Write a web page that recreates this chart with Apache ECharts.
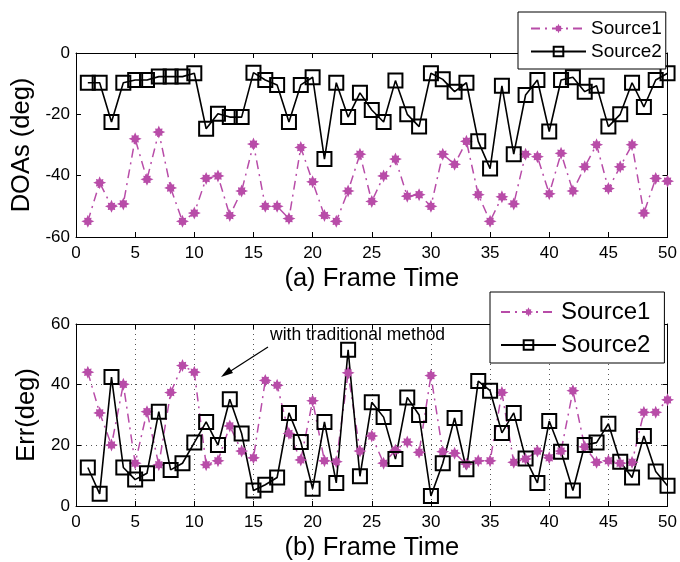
<!DOCTYPE html>
<html>
<head>
    <meta charset="utf-8" />
    <title>DOAs and Err per frame</title>
    <script src="https://cdn.jsdelivr.net/npm/echarts@6/dist/echarts.min.js"></script>
</head>
<body style="margin:0;background:#fff;">
<div id="main" style="width: 680px;height:562px;"></div>
<script type="text/javascript">
    // frame index (x axis)
    var frames = [1,2,3,4,5,6,7,8,9,10,11,12,13,14,15,16,17,18,19,20,21,22,23,24,25,
                  26,27,28,29,30,31,32,33,34,35,36,37,38,39,40,41,42,43,44,45,46,47,48,49,50];
    // (a) DOAs
    var doaSource1 = [-54.9,-42.3,-50,-49.2,-28,-41.2,-25.8,-44,-54.9,-52.2,
                      -40.9,-40.1,-53,-45,-29.7,-50,-50,-54,-30.8,-42,
                      -53,-54.9,-45,-33,-48.4,-40.1,-34.6,-46.7,-46.2,-50,
                      -33,-36.3,-28.8,-46.2,-54.9,-46.9,-49.2,-33,-33.8,-45.9,
                      -32.7,-45,-37.1,-29.9,-44.2,-37.1,-29.9,-52.2,-40.9,-41.8];
    var doaSource2 = [-9.7,-9.7,-22.5,-9.7,-8.8,-8.8,-7.7,-7.7,-7.7,-6.6,
                      -24.7,-19.8,-20.9,-20.9,-6.4,-8.8,-10.4,-22.5,-10.4,-7.9,
                      -34.6,-9.7,-20.9,-13,-18.6,-22.5,-9,-20,-24,-6.6,
                      -8.6,-12.6,-9.7,-28.8,-37.7,-10.7,-33,-13.7,-8.8,-25.6,
                      -8.8,-7.9,-12.6,-10.7,-24,-20,-9.7,-17.6,-8.8,-6.6];
    // (b) Err
    var errSource1 = [44.1,30.7,20.1,40.1,14.1,31.1,13.6,37.4,46.3,44.1,
                      13.6,14.9,26.4,18.1,15.9,41.4,39.8,23.9,15.2,34.7,
                      14.9,14.6,43.9,18.1,23.1,14.1,18.4,21.1,17.7,43,
                      17.9,17.4,13.8,14.9,14.9,37.4,14.4,15.5,18.1,15.9,
                      18.1,38,19.5,14.4,14.9,14.1,14.4,30.9,30.9,35];
    var errSource2 = [12.7,4,42.5,12.7,8.7,10.8,31.1,11.9,14.1,20.9,
                      27.7,20.1,35.2,23.9,5.1,7,9.4,30.7,21.1,5.7,
                      27.7,7.6,51.5,9.8,34.2,29.3,15.5,35.8,30,3.3,
                      14.1,29,12.1,41.2,38,24.1,30.7,15.7,7.6,28,
                      17.9,5.1,20.1,20.9,27.1,14.6,9.4,23.1,11.4,6.7];
    // axis ranges [min, max, interval]
    var xRange = [0, 50, 5];
    var doaRange = [-60, 0, 20];
    var errRange = [0, 60, 20];
    var seriesNames = ['Source1', 'Source2'];

    function pairs(ys) {
        var out = [];
        for (var i = 0; i < frames.length; i++) {
            out.push([frames[i], ys[i]]);
        }
        return out;
    }

    var FONT = '"Liberation Sans", Arial, sans-serif';
    var PINK = '#b84ca8';
    // MATLAB style '*' marker, drawn fat
    var STAR = 'path://M10,0 L12.1,4.9 L15.7,4.3 L15.1,7.9 L20,10 L15.1,12.1 L15.7,15.7 L12.1,15.1 L10,20 L7.9,15.1 L4.3,15.7 L4.9,12.1 L0,10 L4.9,7.9 L4.3,4.3 L7.9,4.9 Z';

    function xAx(grid, showGrid, nameText) {
        return [{
            type: 'value', gridIndex: grid, min: xRange[0], max: xRange[1], interval: xRange[2],
            position: 'bottom',
            name: nameText, nameLocation: 'middle', nameGap: 29,
            nameTextStyle: { fontSize: 25.5, color: '#000', fontFamily: FONT },
            axisLine: { show: true, onZero: false, lineStyle: { color: '#000', width: 1 } },
            axisTick: { inside: true, length: 5, lineStyle: { color: '#000' } },
            axisLabel: { fontSize: 17, color: '#000', margin: 8, fontFamily: FONT },
            splitLine: { show: showGrid, lineStyle: { color: '#555', type: [1, 4] } }
        }, {
            type: 'value', gridIndex: grid, min: xRange[0], max: xRange[1], interval: xRange[2],
            position: 'top',
            axisLine: { show: true, onZero: false, lineStyle: { color: '#000', width: 1 } },
            axisTick: { inside: true, length: 5, lineStyle: { color: '#000' } },
            axisLabel: { show: false },
            splitLine: { show: false }
        }];
    }

    function yAx(grid, range, showGrid, nameText, gap) {
        return [{
            type: 'value', gridIndex: grid, min: range[0], max: range[1], interval: range[2],
            position: 'left',
            name: nameText, nameLocation: 'middle', nameGap: gap,
            nameTextStyle: { fontSize: 25.5, color: '#000', fontFamily: FONT },
            axisLine: { show: true, onZero: false, lineStyle: { color: '#000', width: 1 } },
            axisTick: { inside: true, length: 5, lineStyle: { color: '#000' } },
            axisLabel: { fontSize: 17, color: '#000', margin: 6, fontFamily: FONT },
            splitLine: { show: showGrid, lineStyle: { color: '#555', type: [1, 4] } }
        }, {
            type: 'value', gridIndex: grid, min: range[0], max: range[1], interval: range[2],
            position: 'right',
            axisLine: { show: true, onZero: false, lineStyle: { color: '#000', width: 1 } },
            axisTick: { inside: true, length: 5, lineStyle: { color: '#000' } },
            axisLabel: { show: false },
            splitLine: { show: false }
        }];
    }

    function s1(data, xi, yi) {
        return {
            name: seriesNames[0], type: 'line', xAxisIndex: xi, yAxisIndex: yi,
            data: pairs(data), symbol: STAR, symbolSize: 13,
            lineStyle: { color: PINK, width: 1.5, type: [9, 5, 2, 5] },
            itemStyle: { color: PINK },
            animation: false
        };
    }
    function s2(data, xi, yi) {
        return {
            name: seriesNames[1], type: 'line', xAxisIndex: xi, yAxisIndex: yi,
            data: pairs(data), symbol: 'rect', symbolSize: 14,
            lineStyle: { color: '#000', width: 1.6 },
            itemStyle: { color: 'rgba(0,0,0,0)', borderColor: '#000', borderWidth: 2 },
            animation: false, z: 3
        };
    }

    var myChart = echarts.init(document.getElementById('main'));
    var option = {
        backgroundColor: '#fff',
        textStyle: { fontFamily: FONT },
        grid: [
            { left: 76, top: 53, width: 592, height: 184 },
            { left: 76, top: 324, width: 592, height: 184 }
        ],
        xAxis: xAx(0, false, '(a) Frame Time').concat(xAx(1, true, '(b) Frame Time')),
        yAxis: yAx(0, doaRange, false, 'DOAs (deg)', 41).concat(yAx(1, errRange, true, 'Err(deg)', 33)),
        legend: [{
            data: seriesNames, orient: 'vertical', left: 518, top: 12,
            itemWidth: 55, itemHeight: 12, itemGap: 4,
            padding: [7, 4, 8, 12],
            backgroundColor: '#fff', borderColor: '#000', borderWidth: 1, borderRadius: 0,
            textStyle: { fontSize: 19, color: '#000', fontFamily: FONT },
            z: 10
        }, {
            data: seriesNames, orient: 'vertical', left: 490, top: 292,
            itemWidth: 55, itemHeight: 12, itemGap: 9,
            padding: [8, 14, 6, 10],
            backgroundColor: '#fff', borderColor: '#000', borderWidth: 1, borderRadius: 0,
            textStyle: { fontSize: 24, color: '#000', fontFamily: FONT },
            z: 10
        }],
        graphic: [
            { type: 'text', left: 270, top: 326, z: 20,
              style: { text: 'with traditional method', fill: '#000', font: '17.5px "Liberation Sans", Arial, sans-serif' } },
            { type: 'line', z: 20, shape: { x1: 268, y1: 347, x2: 226, y2: 374 },
              style: { stroke: '#000', lineWidth: 1.2 } },
            { type: 'polygon', z: 20, shape: { points: [[221, 377], [229, 367], [233, 373]] },
              style: { fill: '#000' } }
        ],
        series: [
            s1(doaSource1, 0, 0), s2(doaSource2, 0, 0),
            s1(errSource1, 2, 2), s2(errSource2, 2, 2)
        ]
    };
    myChart.setOption(option);
</script>
</body>
</html>
